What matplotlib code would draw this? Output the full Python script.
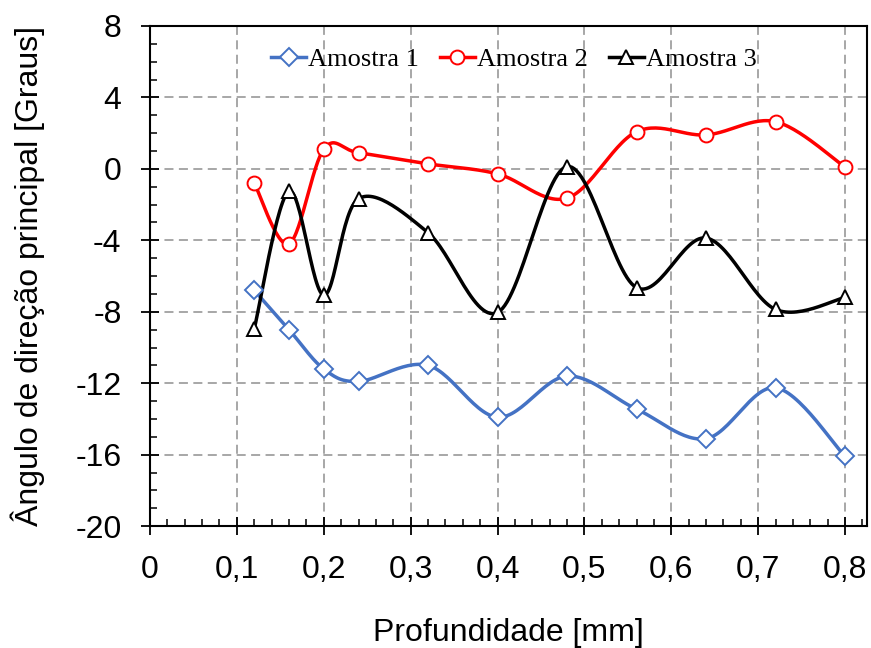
import numpy as np
import matplotlib
matplotlib.use("Agg")
import matplotlib.pyplot as plt
from matplotlib.ticker import MultipleLocator, FuncFormatter

depth = [0.12, 0.16, 0.20, 0.24, 0.32, 0.40, 0.48, 0.56, 0.64, 0.72, 0.80]
amostra1 = [-6.8, -9.0, -11.2, -11.9, -11.0, -13.9, -11.6, -13.45, -15.1, -12.25, -16.1]
amostra2 = [-0.8, -4.2, 1.1, 0.9, 0.28, -0.28, -1.64, 2.08, 1.9, 2.64, 0.1]
amostra3 = [-8.95, -1.25, -7.07, -1.67, -3.57, -8.04, 0.13, -6.65, -3.87, -7.87, -7.2]
labels = ["Amostra 1", "Amostra 2", "Amostra 3"]
colors = ["#4472C4", "#FF0000", "#000000"]
markers = ["D", "o", "^"]


def smooth(x, y, n=30):
    x = np.asarray(x, float)
    y = np.asarray(y, float)
    P = np.column_stack([x, y])
    out = [P[0]]
    for i in range(len(P) - 1):
        p0 = P[i - 1] if i > 0 else P[i]
        p1 = P[i]
        p2 = P[i + 1]
        p3 = P[i + 2] if i + 2 < len(P) else P[i + 1]
        c1 = p1 + (p2 - p0) / 6.0
        c2 = p2 - (p3 - p1) / 6.0
        t = np.linspace(0, 1, n)[1:, None]
        seg = ((1 - t) ** 3) * p1 + 3 * ((1 - t) ** 2) * t * c1 + 3 * (1 - t) * t ** 2 * c2 + t ** 3 * p2
        out.extend(seg)
    out = np.array(out)
    return out[:, 0], out[:, 1]


fig = plt.figure(figsize=(8.71, 6.48), dpi=100)
ax = fig.add_axes([0.1722, 0.188, 0.823, 0.772])

for ys, lab, c, m in zip([amostra1, amostra2, amostra3], labels, colors, markers):
    sx, sy = smooth(depth, ys)
    ax.plot(sx, sy, color=c, lw=2.5, zorder=3)
    ms = {"D": 9, "o": 10, "^": 10.5}[m]
    ax.plot(depth, ys, linestyle="none", marker=m, ms=ms, mfc="white", mec=c, mew=1.4, zorder=4)
    ax.plot([], [], color=c, lw=2.5, marker=m, ms=ms, mfc="white", mec=c, mew=1.4, label=lab)

ax.set_xlim(0, 0.825)
ax.set_ylim(-20, 8)
ax.xaxis.set_major_locator(MultipleLocator(0.1))
ax.xaxis.set_minor_locator(MultipleLocator(0.02))
ax.yaxis.set_major_locator(MultipleLocator(4))
ax.yaxis.set_minor_locator(MultipleLocator(1))
ax.xaxis.set_major_formatter(FuncFormatter(lambda v, p: ("%g" % round(v, 2)).replace(".", ",")))
ax.yaxis.set_major_formatter(FuncFormatter(lambda v, p: "%d" % round(v)))

ax.grid(True, which="major", color="#a0a0a0", linestyle=(0, (5, 3)), linewidth=1.3, zorder=1)
ax.set_axisbelow(True)
for s in ax.spines.values():
    s.set_linewidth(1.5)
    s.set_color("black")

ax.tick_params(which="major", direction="inout", length=13, width=1.3, labelsize=23, pad=14,
               top=False, right=False)
ax.tick_params(which="minor", direction="in", length=5, width=1.1, top=False, right=False)
for lbl in ax.get_xticklabels() + ax.get_yticklabels():
    lbl.set_fontfamily("Liberation Sans")

ax.set_xlabel("Profundidade [mm]", fontsize=23, fontfamily="Liberation Sans", labelpad=24)
ax.set_ylabel("Ângulo de direção principal [Graus]", fontsize=23, fontfamily="Liberation Sans", labelpad=22)

leg = ax.legend(loc="upper center", bbox_to_anchor=(0.508, 1.004), ncol=3, frameon=False,
                prop={"family": "Liberation Serif", "size": 19}, handlelength=1.3,
                handletextpad=0.1, columnspacing=0.8)

fig.savefig("out.png", dpi=100)
